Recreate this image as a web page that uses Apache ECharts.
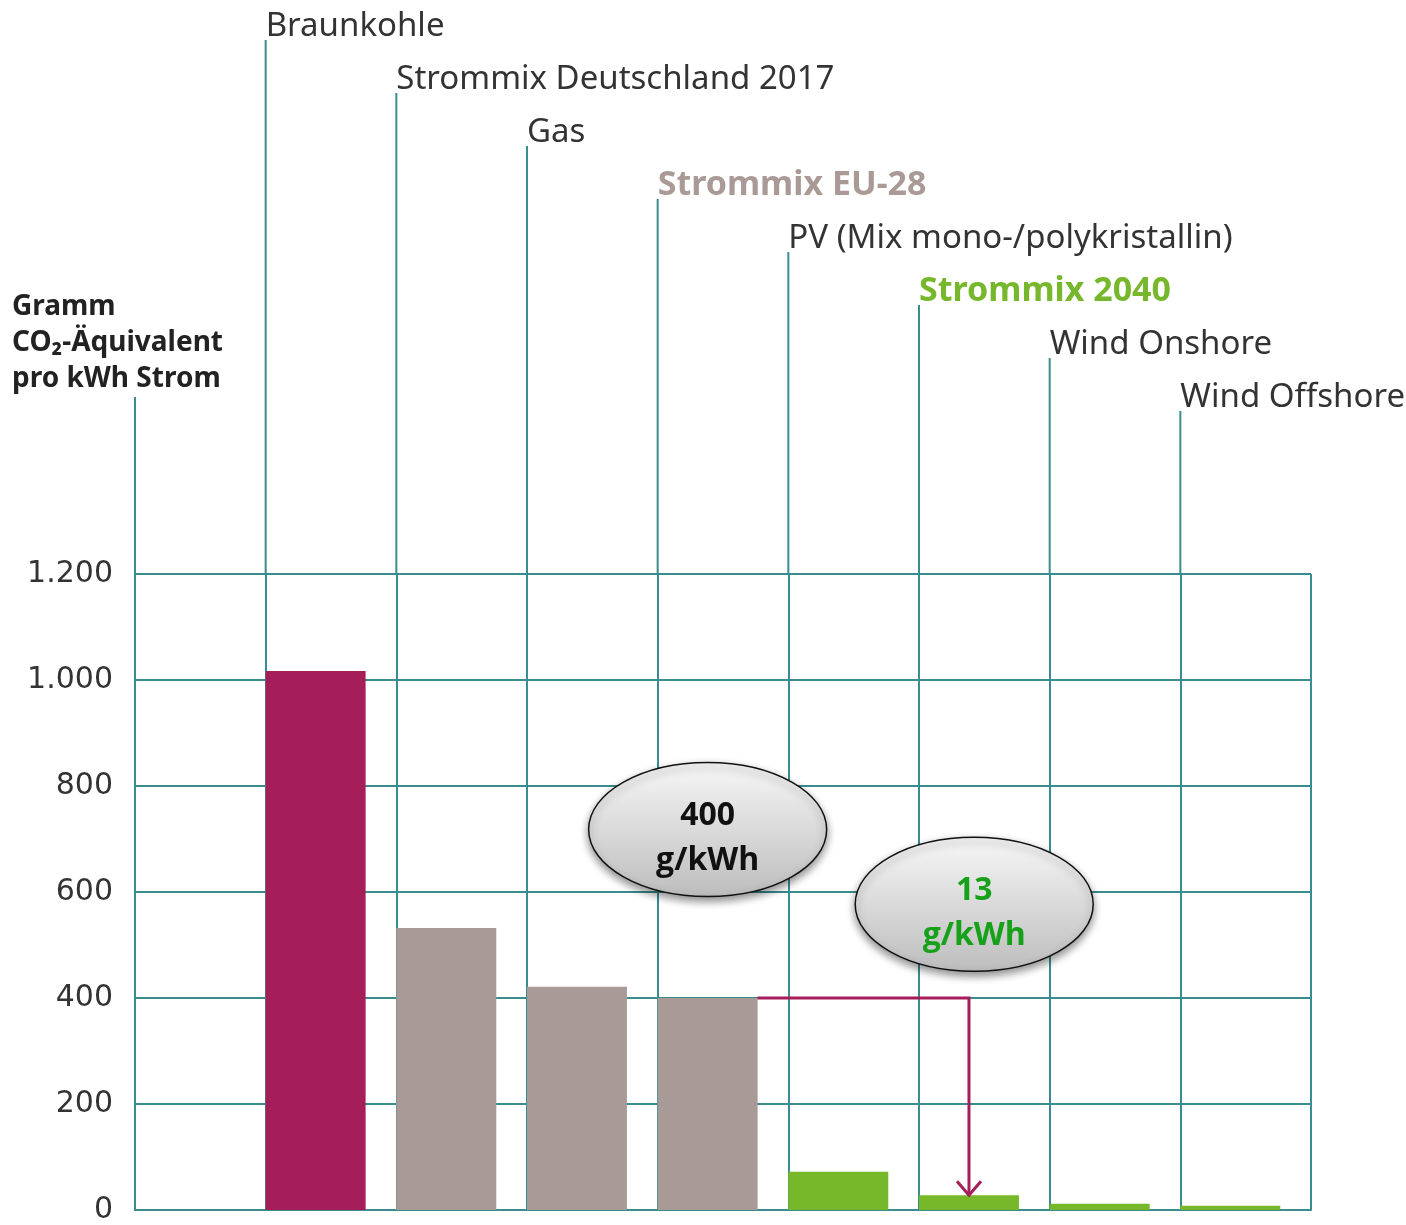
<!DOCTYPE html>
<html>
<head>
<meta charset="utf-8">
<script src="https://cdn.jsdelivr.net/npm/echarts@6/dist/echarts.min.js"></script>
<style>
html, body { margin: 0; padding: 0; background: #fff; }
#main { width: 1406px; height: 1225px; }
</style>
</head>
<body>
<div id="main"></div>
<script>
// Daten
var categories = ['Braunkohle', 'Strommix Deutschland 2017', 'Gas', 'Strommix EU-28',
    'PV (Mix mono-/polykristallin)', 'Strommix 2040', 'Wind Onshore', 'Wind Offshore'];
var values = [1017, 532, 421, 400, 72, 28, 12, 8];
var yTicks = [0, 200, 400, 600, 800, 1000, 1200];
var yTitle = ['Gramm', 'CO\u2082-\u00C4quivalent', 'pro kWh Strom'];
var bubbleTexts = [['400', 'g/kWh'], ['13', 'g/kWh']];

// Stil
var GRID = '#3a8d8f';
var barColors = ['#a51e5a', '#a89b97', '#a89b97', '#a89b97', '#76b82a', '#76b82a', '#76b82a', '#76b82a'];
var labelColors = ['#333', '#333', '#333', '#a99a96', '#333', '#77b72b', '#333', '#333'];
var labelBold = [false, false, false, true, false, true, false, false];
var BAR_FRAC = 0.765;
var STEM_TOP0 = 40, STEM_STEP = 53;
var EU = 3, MIX2040 = 5;

var chartDom = document.getElementById('main');
var myChart = echarts.init(chartDom);

var barData = values.map(function (v, i) { return [i + 1, v]; });

function renderBar(params, api) {
    var x = api.value(0), v = api.value(1);
    var p0 = api.coord([x, 0]);
    var p1 = api.coord([x + BAR_FRAC, v]);
    return {
        type: 'rect',
        shape: { x: p0[0], y: p1[1], width: p1[0] - p0[0], height: p0[1] - p1[1] },
        style: { fill: barColors[params.dataIndex] }
    };
}

function renderStem(params, api) {
    var i = params.dataIndex;
    var base = api.coord([api.value(0), yTicks[yTicks.length - 1]]);
    var top = STEM_TOP0 + STEM_STEP * i;
    return {
        type: 'group',
        children: [{
            type: 'line',
            shape: { x1: base[0], y1: base[1], x2: base[0], y2: top },
            style: { stroke: GRID, lineWidth: 2 }
        }, {
            type: 'text',
            x: base[0],
            y: top + 3,
            style: {
                text: categories[i],
                fill: labelColors[i],
                font: labelBold[i] ? 'bold 34px "Noto Sans"' : '33px "Noto Sans"',
                textAlign: 'left',
                textVerticalAlign: 'bottom'
            }
        }]
    };
}

var option = {
    animation: false,
    grid: { left: 135, right: 95, top: 574, bottom: 13 },
    xAxis: {
        type: 'value',
        min: 0,
        max: 9,
        interval: 1,
        axisLine: { show: true, lineStyle: { color: GRID, width: 2 } },
        axisTick: { show: false },
        axisLabel: { show: false },
        splitLine: { show: true, lineStyle: { color: GRID, width: 2 } }
    },
    yAxis: {
        type: 'value',
        min: 0,
        max: 1200,
        interval: 200,
        axisLine: { show: true, lineStyle: { color: GRID, width: 2 } },
        axisTick: { show: false },
        axisLabel: {
            margin: 22,
            color: '#333',
            fontSize: 30,
            fontFamily: 'DejaVu Sans',
            formatter: function (v) { return String(v).replace(/\B(?=(\d{3})+(?!\d))/g, '.'); }
        },
        splitLine: { show: true, lineStyle: { color: GRID, width: 2 } }
    },
    series: [{
        name: 'Stems',
        type: 'custom',
        renderItem: renderStem,
        data: barData,
        z: 1
    }, {
        name: 'CO2',
        type: 'custom',
        renderItem: renderBar,
        data: barData,
        z: 2
    }]
};
option && myChart.setOption(option);

// Anmerkungen
function px(x, y) { return myChart.convertToPixel({ gridIndex: 0 }, [x, y]); }

var axisTop = px(0, 1200);
var arrowStart = px(EU + 1 + BAR_FRAC, values[EU]);
var arrowCorner = px(MIX2040 + 1 + BAR_FRAC / 2, values[EU]);
var arrowEnd = px(MIX2040 + 1 + BAR_FRAC / 2, values[MIX2040]);
var bubbleCenters = [px(EU + 1 + BAR_FRAC / 2, 718), px(MIX2040 + 1 + BAR_FRAC / 2 + 0.04, 577)];
var bubbleColors = ['#111', '#17a019'];

var graphics = [{
    type: 'line',
    shape: { x1: axisTop[0], y1: axisTop[1], x2: axisTop[0], y2: 397 },
    style: { stroke: GRID, lineWidth: 2 }
}, {
    type: 'text',
    left: 12,
    top: 289,
    style: {
        text: yTitle.join('\n'),
        fill: '#222',
        font: 'bold 28px "Noto Sans"',
        lineHeight: 36
    }
}, {
    type: 'polyline',
    shape: { points: [arrowStart, arrowCorner, arrowEnd] },
    style: { stroke: '#a51e5a', lineWidth: 3, fill: null },
    z: 10
}, {
    type: 'polyline',
    shape: { points: [[arrowEnd[0] - 12, arrowEnd[1] - 14], arrowEnd, [arrowEnd[0] + 12, arrowEnd[1] - 14]] },
    style: { stroke: '#a51e5a', lineWidth: 3, fill: null },
    z: 10
}];

bubbleCenters.forEach(function (c, k) {
    graphics.push({
        type: 'ellipse',
        shape: { cx: c[0], cy: c[1], rx: 119, ry: 67 },
        style: {
            fill: new echarts.graphic.LinearGradient(0, 0, 0, 1, [
                { offset: 0, color: '#f7f7f7' },
                { offset: 1, color: '#bdbdbd' }
            ]),
            stroke: '#111',
            lineWidth: 1.5,
            shadowBlur: 8,
            shadowOffsetY: 4,
            shadowColor: 'rgba(0,0,0,0.45)'
        },
        z: 20
    });
    graphics.push({
        type: 'text',
        x: c[0],
        y: c[1] + 9,
        style: {
            text: bubbleTexts[k].join('\n'),
            fill: bubbleColors[k],
            font: 'bold 32px "Open Sans"',
            lineHeight: 45,
            textAlign: 'center',
            textVerticalAlign: 'middle'
        },
        z: 21
    });
});

myChart.setOption({ graphic: graphics });
</script>
</body>
</html>
